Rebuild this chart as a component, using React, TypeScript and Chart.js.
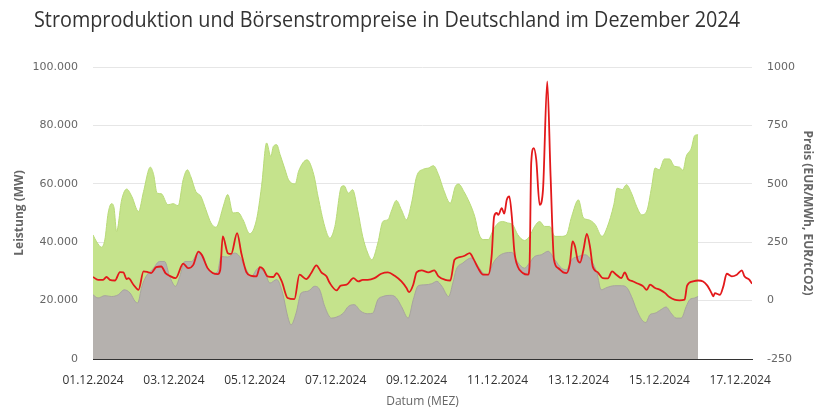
import React, { useEffect, useRef } from 'react';
import { Chart, registerables } from 'chart.js';

Chart.register(...registerables);

const TITLE = 'Stromproduktion und Börsenstrompreise in Deutschland im Dezember 2024';
const LEFT_TITLE = 'Leistung (MW)';
const RIGHT_TITLE = 'Preis (EUR/MWh, EUR/tCO2)';
const X_TITLE = 'Datum (MEZ)';

// Hours since 01.12.2024 00:00
const tickHours = [0, 48, 96, 144, 192, 240, 288, 336, 384];
const leftTicks = [0, 20000, 40000, 60000, 80000, 100000];
const rightTicks = [-250, 0, 250, 500, 750, 1000];

// Total production (top of green area), MW
const totalHours = [0, 2, 5, 7, 9, 11, 12.5, 14, 17, 20, 23, 27, 30, 34, 36, 38, 40.5, 44.5, 47.5, 50.5, 53.5, 56, 58, 61, 64, 67, 70, 73, 74.5, 77, 80, 83, 86, 89, 93, 97, 100, 103, 105.5, 107, 109, 111, 114, 116, 120, 122, 127, 131, 133.5, 137.5, 140.5, 143.5, 147.5, 149, 151.5, 154, 157, 160, 163, 165.5, 169, 172, 175, 177, 180, 183, 186, 189, 192, 196, 199, 202, 205, 208, 212, 215, 217, 220, 223.5, 226.5, 229, 231.5, 234.5, 237.5, 240.5, 243, 246, 249, 252, 256, 259, 262, 265, 268, 271, 274, 278, 281, 284, 288, 291, 294, 298, 302, 305, 309, 311, 314, 316.5, 319.5, 322.5, 325.5, 328.5, 331.5, 333.5, 336, 339, 342, 345, 348, 350, 352, 355, 357, 359];
const totalMW = [42500, 40300, 38300, 40800, 50000, 53200, 51700, 43700, 54500, 58200, 55700, 50500, 57400, 65700, 63100, 56800, 56600, 52800, 53200, 52500, 61400, 64800, 62500, 57400, 55700, 51100, 46600, 45100, 46600, 51700, 56300, 50000, 50200, 47700, 42900, 47700, 59100, 74000, 69400, 72800, 73400, 70000, 64800, 61400, 60000, 64300, 68200, 63100, 55700, 45400, 41400, 45400, 59100, 59300, 56800, 58000, 51100, 42000, 36300, 34000, 39700, 47100, 47700, 50600, 54300, 51100, 47700, 53400, 62500, 65000, 65400, 66200, 63100, 58000, 53400, 59100, 59900, 57400, 53400, 48800, 42800, 40900, 40900, 44300, 46600, 47100, 46600, 46000, 42600, 40600, 42000, 45400, 47100, 45400, 45400, 42000, 42000, 42600, 48800, 54500, 48300, 47700, 46000, 42000, 45000, 52800, 58500, 58000, 59700, 56800, 52300, 49400, 50600, 59100, 65400, 64800, 68500, 68500, 66000, 65700, 64600, 69400, 72200, 76500, 76800];

// Conventional production (gray area), MW
const convHours = [0, 3, 7, 11, 15, 18.5, 22, 25, 26.5, 29, 31.5, 35.5, 39.5, 42.5, 45.5, 49, 51.5, 54.5, 58.5, 62.5, 65.5, 68, 72, 74, 76, 80, 84, 87, 90, 94, 98, 102, 105, 109, 112.5, 115.5, 117.5, 120.5, 123.5, 127.5, 131.5, 134.5, 137.5, 141.5, 145.5, 148.5, 151.5, 155, 159, 163, 166, 169, 172, 177, 180, 183, 187, 190, 193, 197, 201, 204, 207, 211, 213.5, 215.5, 219.5, 224.5, 227.5, 231.5, 234.5, 237.5, 240.5, 244.5, 248.5, 252, 256, 259, 262, 266, 270, 274, 278, 281, 284, 288, 292, 296, 299, 301.5, 305, 309.5, 313.5, 316.5, 319.5, 322.5, 325.5, 328, 330.5, 333.5, 337, 340, 343, 346, 349, 352, 354, 357, 359];
const convMW = [22000, 20900, 21700, 21400, 22000, 23700, 22600, 19700, 19200, 24900, 28300, 30800, 33400, 33400, 28300, 24900, 28300, 33400, 33400, 36500, 35100, 31100, 29400, 30000, 35100, 34900, 36300, 35100, 31700, 28300, 31100, 29400, 26000, 27200, 22600, 14600, 11700, 15700, 22600, 23200, 24900, 23700, 18000, 14000, 14600, 15700, 18000, 18600, 16300, 15500, 15700, 20300, 21400, 21800, 20900, 18000, 14000, 20300, 25100, 25400, 25800, 26600, 24900, 21400, 26000, 30600, 32900, 34600, 32600, 29400, 28900, 32900, 35100, 36300, 36500, 33100, 31100, 32900, 35100, 35700, 36900, 34000, 31100, 30600, 34000, 35100, 35700, 33400, 29400, 23700, 24500, 25100, 25100, 24600, 21400, 16900, 13500, 12500, 15200, 15700, 16900, 17800, 15700, 14000, 14000, 18000, 20300, 20900, 21400];

// Day-ahead price, EUR/MWh
const priceHours = [0, 3, 6, 8, 10, 13, 16, 18, 20, 21, 24, 27, 30, 32.5, 34.5, 37.5, 40.5, 43, 45.5, 49, 53.5, 56.5, 59.5, 62.5, 64.5, 68, 71, 74, 75.5, 77, 80, 82, 85.5, 88, 91, 94, 97, 99, 101, 103.5, 107, 109, 112, 115.5, 119.5, 122.5, 126.5, 129.5, 132.5, 135.5, 138.5, 140.5, 144.5, 147, 150.5, 154.5, 157.5, 160, 163, 167, 171, 175, 179, 183, 186, 187.5, 190, 192, 195, 199, 202.5, 205, 209, 212, 214.5, 217.5, 220.5, 223.5, 225.5, 228.5, 231.5, 234.5, 236.5, 238, 239.5, 240.5, 242.5, 244, 245.5, 247, 248.5, 250, 252, 255, 258, 259, 260, 261.5, 263, 265, 267, 269.5, 271.5, 273.5, 276, 279, 281, 283, 284.5, 286, 287.5, 289, 291, 293, 295, 296.5, 299.5, 302.5, 305.5, 308, 310.5, 313.5, 315.5, 317.5, 320.5, 323.5, 326.5, 328.5, 330.5, 333.5, 336.5, 339.5, 342, 345, 348, 351, 352.5, 356, 359, 362, 364.5, 367, 368, 369, 372, 374, 376, 379, 382, 385, 386.5, 389.5, 391];
const priceEUR = [101, 89, 89, 101, 89, 86, 122, 121, 92, 96, 68, 46, 125, 122, 118, 143, 146, 118, 106, 96, 158, 139, 153, 210, 196, 139, 118, 113, 132, 275, 203, 200, 289, 203, 122, 106, 104, 143, 135, 104, 101, 118, 82, 11, 6, 111, 92, 118, 151, 121, 104, 75, 44, 64, 68, 96, 82, 89, 89, 96, 115, 121, 106, 82, 54, 36, 68, 121, 129, 121, 129, 104, 89, 86, 175, 186, 192, 203, 182, 139, 111, 111, 189, 360, 375, 367, 396, 372, 432, 446, 360, 211, 146, 118, 111, 146, 589, 653, 603, 410, 475, 938, 532, 175, 139, 121, 118, 161, 253, 232, 175, 163, 218, 286, 225, 146, 121, 96, 95, 125, 111, 96, 121, 92, 82, 72, 61, 46, 68, 54, 46, 32, 15, 4, 1, 4, 64, 82, 86, 82, 64, 32, 18, 32, 25, 61, 115, 104, 111, 129, 104, 89, 72];

const X_MAX = 391;

const pad2 = (n: number) => (n < 10 ? '0' + n : String(n));
const fmtThousands = (v: number) => String(v).replace(/\B(?=(\d{3})+(?!\d))/g, '.');
const toPoints = (xs: number[], ys: number[]) => xs.map((x, i) => ({ x, y: ys[i] }));

const titlePlugin = {
  id: 'customTitle',
  afterDraw(chart: any) {
    const ctx = chart.ctx;
    ctx.save();
    ctx.font = '21px "Open Sans"';
    ctx.fillStyle = '#333333';
    ctx.textBaseline = 'alphabetic';
    ctx.textAlign = 'left';
    ctx.fillText(TITLE, 26, 19, 706);
    ctx.restore();
  },
};

export default function App() {
  const ref = useRef<HTMLCanvasElement | null>(null);

  useEffect(() => {
    if (!ref.current) return;
    const tickFont = { family: 'DejaVu Sans', size: 11 };
    const axisTitleFont = { family: 'Open Sans', size: 12, weight: 'bold' as const };
    const chart = new Chart(ref.current, {
      type: 'line',
      data: {
        datasets: [
          {
            label: 'Preis',
            data: toPoints(priceHours, priceEUR),
            yAxisID: 'y1',
            borderColor: '#e3191b',
            borderWidth: 1.8,
            pointRadius: 0,
            fill: false,
            cubicInterpolationMode: 'monotone',
          },
          {
            label: 'Konventionell',
            data: toPoints(convHours, convMW),
            yAxisID: 'y',
            borderColor: 'rgb(168,163,160)',
            backgroundColor: 'rgb(181,177,174)',
            borderWidth: 1,
            pointRadius: 0,
            fill: 'origin',
            cubicInterpolationMode: 'monotone',
          },
          {
            label: 'Gesamt',
            data: toPoints(totalHours, totalMW),
            yAxisID: 'y',
            borderColor: 'rgb(184,218,120)',
            backgroundColor: 'rgb(197,227,140)',
            borderWidth: 1,
            pointRadius: 0,
            fill: 'origin',
            cubicInterpolationMode: 'monotone',
          },
        ],
      },
      options: {
        animation: false,
        responsive: false,
        events: [],
        layout: { padding: { top: 59 } },
        plugins: {
          legend: { display: false },
          tooltip: { enabled: false },
          title: { display: false },
        },
        scales: {
          x: {
            type: 'linear',
            min: 0,
            max: X_MAX,
            afterBuildTicks: (s: any) => {
              s.ticks = tickHours.map((v) => ({ value: v }));
            },
            afterFit: (s: any) => {
              s.height = 50;
            },
            grid: { display: false, drawTicks: false },
            border: { display: true, color: '#333333', width: 1 },
            ticks: {
              autoSkip: false,
              maxRotation: 0,
              minRotation: 0,
              padding: 14,
              color: '#333333',
              font: { family: 'Open Sans', size: 12 },
              callback: (v: any) => pad2(1 + Math.round(Number(v) / 24)) + '.12.2024',
            },
            title: {
              display: true,
              text: X_TITLE,
              color: '#666666',
              font: { family: 'Open Sans', size: 12 },
              padding: { top: 0, bottom: 0 },
            },
          },
          y: {
            type: 'linear',
            position: 'left',
            min: 0,
            max: 100000,
            afterBuildTicks: (s: any) => {
              s.ticks = leftTicks.map((v) => ({ value: v }));
            },
            afterFit: (s: any) => {
              s.width = 85;
            },
            grid: { color: '#e6e6e6', drawTicks: false, lineWidth: 1 },
            border: { display: false },
            ticks: {
              padding: 15,
              color: '#666666',
              font: tickFont,
              callback: (v: any) => fmtThousands(Number(v)),
            },
            title: {
              display: true,
              text: LEFT_TITLE,
              color: '#666666',
              font: axisTitleFont,
              padding: { top: 4, bottom: 0 },
            },
          },
          y1: {
            type: 'linear',
            position: 'right',
            min: -250,
            max: 1000,
            afterBuildTicks: (s: any) => {
              s.ticks = rightTicks.map((v) => ({ value: v }));
            },
            afterFit: (s: any) => {
              s.width = 72;
            },
            grid: { display: false, drawTicks: false },
            border: { display: false },
            ticks: {
              padding: 15,
              color: '#666666',
              font: tickFont,
              callback: (v: any) => String(v),
            },
            title: {
              display: true,
              text: RIGHT_TITLE,
              color: '#666666',
              font: axisTitleFont,
              padding: { top: 9, bottom: 0 },
            },
          },
        },
      },
      plugins: [titlePlugin],
    } as any);
    return () => chart.destroy();
  }, []);

  return (
    <div style={{ width: 816, height: 401 }}>
      <canvas ref={ref} width={816} height={401} style={{ display: 'block' }} />
    </div>
  );
}
